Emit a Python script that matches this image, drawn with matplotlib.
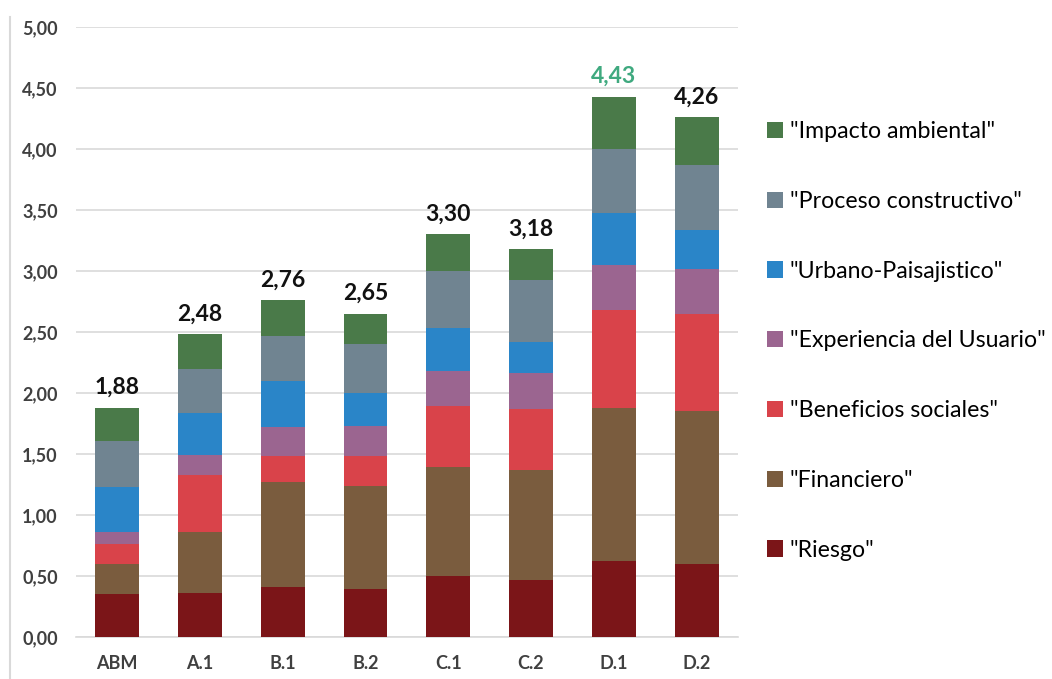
import numpy as np
import matplotlib.pyplot as plt
from matplotlib.lines import Line2D
from matplotlib.patches import Patch

plt.rcParams['font.family'] = ['Lato', 'DejaVu Sans']

categories = ["ABM", "A.1", "B.1", "B.2", "C.1", "C.2", "D.1", "D.2"]
series_names = ['"Riesgo"', '"Financiero"', '"Beneficios sociales"',
                '"Experiencia del Usuario"', '"Urbano-Paisajistico"',
                '"Proceso constructivo"', '"Impacto ambiental"']
riesgo = [0.35, 0.36, 0.41, 0.39, 0.50, 0.47, 0.62, 0.60]
financiero = [0.25, 0.50, 0.86, 0.85, 0.89, 0.90, 1.26, 1.25]
beneficios = [0.16, 0.47, 0.21, 0.24, 0.50, 0.50, 0.80, 0.80]
experiencia = [0.10, 0.16, 0.24, 0.25, 0.29, 0.29, 0.37, 0.37]
urbano = [0.37, 0.35, 0.38, 0.27, 0.35, 0.26, 0.43, 0.32]
proceso = [0.38, 0.36, 0.37, 0.40, 0.47, 0.51, 0.52, 0.53]
impacto = [0.27, 0.28, 0.29, 0.25, 0.30, 0.25, 0.43, 0.39]
totals = [1.88, 2.48, 2.76, 2.65, 3.30, 3.18, 4.43, 4.26]
colors = ["#7b1518", "#7a5c3e", "#d9434a", "#9b6590", "#2a85c8", "#708491", "#4a7a49"]

data = [riesgo, financiero, beneficios, experiencia, urbano, proceso, impacto]

fig = plt.figure(figsize=(10.52, 6.79), dpi=100)
ax = fig.add_axes([0.072, 0.062, 0.6295, 0.898])

x = np.arange(len(categories))
bottom = np.zeros(len(categories))
for vals, col, name in zip(data, colors, series_names):
    ax.bar(x, vals, 0.53, bottom=bottom, color=col, label=name, zorder=3)
    bottom += np.array(vals)

for i, t in enumerate(totals):
    c = "#3fa97f" if i == 6 else "#111111"
    ax.annotate(f"{t:.2f}".replace(".", ","), (x[i], bottom[i]),
                xytext=(0, 7), textcoords="offset points",
                ha="center", va="bottom", fontsize=16.5, fontweight="bold", color=c)

ax.set_xlim(-0.5, 7.5)
ax.set_ylim(0, 5)
ax.set_yticks(np.arange(0, 5.01, 0.5))
ax.set_yticklabels([f"{v:.2f}".replace(".", ",") for v in np.arange(0, 5.01, 0.5)])
ax.set_xticks(x)
ax.set_xticklabels(categories)
ax.yaxis.grid(True, color="#d9d9d9", linewidth=1.2, zorder=0)
ax.set_axisbelow(True)
for s in ["top", "right", "left"]:
    ax.spines[s].set_visible(False)
ax.spines["bottom"].set_color("#d9d9d9")
ax.spines["bottom"].set_linewidth(1.2)
ax.tick_params(axis="both", length=0, colors="#404040", labelsize=13)
ax.tick_params(axis="y", pad=13)
ax.tick_params(axis="x", pad=13)
for lab in ax.get_xticklabels() + ax.get_yticklabels():
    lab.set_fontweight("bold")

handles = [Patch(facecolor=c) for c in colors][::-1]
fig.legend(handles, series_names[::-1], loc="upper left", bbox_to_anchor=(0.72, 0.835),
           frameon=False, fontsize=16.7, handlelength=0.7, handleheight=0.7,
           handletextpad=0.3, labelspacing=2.1, borderaxespad=0)

fig.add_artist(Line2D([0.0095, 0.0095], [0.0, 0.975], color="#d9d9d9", linewidth=1.5))

fig.savefig("out.png", dpi=100)
